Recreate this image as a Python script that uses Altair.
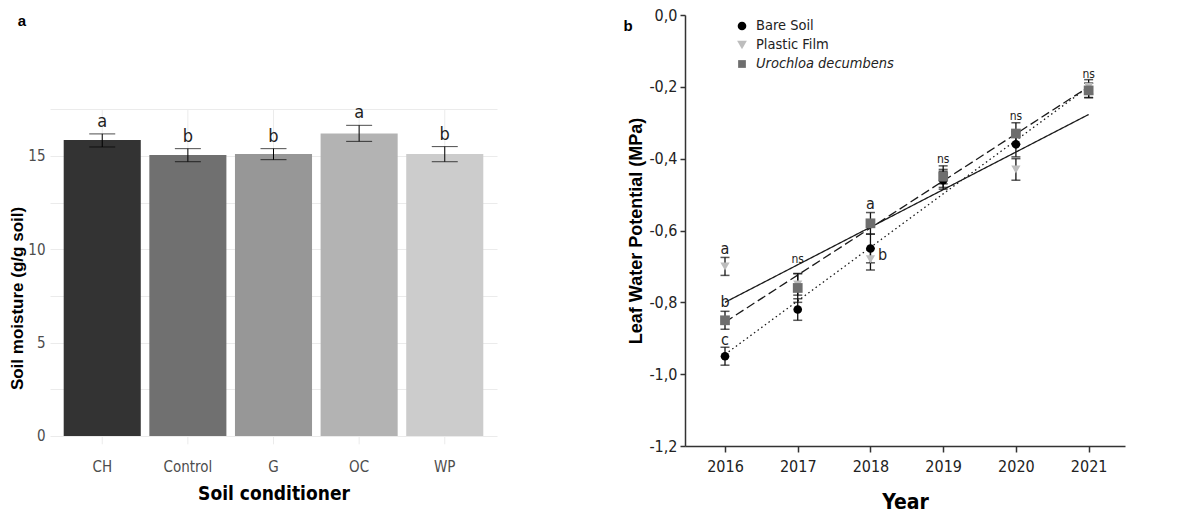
import altair as alt
import pandas as pd

NARROW = "Liberation Sans Narrow, Arial Narrow, DejaVu Sans Condensed, sans-serif"
SANS = "Liberation Sans, Arial, sans-serif"

# ---------------- panel a: soil moisture by conditioner ----------------
conditioners = ["CH", "Control", "G", "OC", "WP"]
moisture = [15.85, 15.05, 15.10, 16.20, 15.10]
moisture_lo = [15.48, 14.69, 14.80, 15.78, 14.69]
moisture_hi = [16.18, 15.39, 15.39, 16.64, 15.50]
moisture_groups = ["a", "b", "b", "a", "b"]
bar_greys = ["#333333", "#707070", "#979797", "#b3b3b3", "#cccccc"]
moisture_ticks = [0, 2.5, 5, 7.5, 10, 12.5, 15, 17.5]

# ---------------- panel b: leaf water potential by year ----------------
years = [2016, 2017, 2018, 2019, 2020, 2021]
series_names = ["Bare Soil", "Plastic Film", "Urochloa decumbens"]
bare_soil = [-0.95, -0.82, -0.65, -0.46, -0.36, -0.21]
bare_soil_err = [0.025, 0.03, 0.04, 0.025, 0.035, 0.02]
plastic_film = [-0.70, -0.75, -0.68, -0.45, -0.43, -0.20]
plastic_film_err = [0.025, 0.03, 0.03, 0.02, 0.03, 0.02]
urochloa = [-0.85, -0.76, -0.58, -0.45, -0.33, -0.21]
urochloa_err = [0.025, 0.04, 0.03, 0.03, 0.03, 0.02]
# fitted linear trends, value at first and last year
fit_years = [2016, 2021]
bare_soil_fit = [-0.945, -0.200]
plastic_film_fit = [-0.800, -0.277]
urochloa_fit = [-0.855, -0.200]
series_shapes = ["circle", "triangle-down", "square"]
series_sizes = [75, 95, 60]
series_colors = ["#000000", "#bdbdbd", "#6e6e6e"]
series_dash = [[1.5, 3], [1, 0], [9, 4]]
# significance letters: year, value, text, placed right of the marker or not
sig_years = [2016, 2016, 2016, 2017, 2018, 2018, 2019, 2020, 2021]
sig_values = [-0.652, -0.800, -0.905, -0.680, -0.525, -0.667, -0.400, -0.280, -0.163]
sig_labels = ["a", "b", "c", "ns", "a", "b", "ns", "ns", "ns"]
sig_right = [False, False, False, False, False, True, False, False, False]
lwp_ticks = [0.0, -0.2, -0.4, -0.6, -0.8, -1.0, -1.2]

# ======================= panel a =======================
bars = pd.DataFrame({
    "cond": conditioners, "moisture": moisture,
    "lo": moisture_lo, "hi": moisture_hi, "grp": moisture_groups,
    "top": [moisture_ticks[-1]] * len(conditioners),
    "bottom": [-0.45] * len(conditioners),
})

band = alt.Scale(paddingInner=0.1, paddingOuter=0.16)
x_a = alt.X("cond:N", sort=conditioners, scale=band,
            axis=alt.Axis(title="Soil conditioner", labelAngle=0,
                          labelAlign="center", labelBaseline="top", grid=False,
                          domain=False, ticks=False, labelPadding=13,
                          labelFont=NARROW, labelFontSize=15, labelColor="#4d4d4d",
                          titleFont=NARROW, titleFontSize=19, titleFontWeight="bold",
                          titleColor="#000000", titlePadding=10))
y_scale_a = alt.Scale(domain=[-0.54, 22.55], nice=False, zero=False)

base_a = alt.Chart(bars)

vgrid = base_a.mark_rule(color="#ebebeb", strokeWidth=1).encode(
    x=x_a,
    y=alt.Y("top:Q", scale=y_scale_a),
    y2="bottom:Q",
)

bar_layer = base_a.mark_bar().encode(
    x=x_a,
    y=alt.Y("moisture:Q", scale=y_scale_a,
            axis=alt.Axis(title="Soil moisture (g/g soil)", values=moisture_ticks,
                          labelExpr="datum.value % 5 == 0 ? datum.label : ''",
                          domain=False, ticks=False, gridColor="#ebebeb",
                          labelFont=NARROW, labelFontSize=15, labelColor="#4d4d4d",
                          labelPadding=5, titleFont=SANS, titleFontSize=17,
                          titleFontWeight="bold", titleColor="#000000",
                          titlePadding=1, titleY=283)),
    color=alt.Color("cond:N", sort=conditioners, legend=None,
                    scale=alt.Scale(domain=conditioners, range=bar_greys)),
)

err_a = base_a.mark_rule(color="#000000", strokeWidth=1).encode(
    x=alt.X("cond:N", sort=conditioners), y="lo:Q", y2="hi:Q")
cap_lo_a = base_a.mark_tick(color="#000000", thickness=1, size=26,
                            orient="horizontal").encode(
    x=alt.X("cond:N", sort=conditioners), y="lo:Q")
cap_hi_a = base_a.mark_tick(color="#000000", thickness=1, size=26,
                            orient="horizontal").encode(
    x=alt.X("cond:N", sort=conditioners), y="hi:Q")
letters_a = base_a.mark_text(font=NARROW, fontSize=18, baseline="bottom",
                             dy=-3, color="#222222").encode(
    x=alt.X("cond:N", sort=conditioners), y="hi:Q", text="grp:N")

tag_a = alt.Chart(pd.DataFrame({"t": ["a"]})).mark_text(
    font=SANS, fontSize=15, fontWeight="bold", baseline="middle", align="center"
).encode(x=alt.value(-28), y=alt.value(6), text="t:N")

panel_a = alt.layer(vgrid, bar_layer, err_a, cap_lo_a, cap_hi_a, letters_a,
                    tag_a).properties(width=447, height=431)

# ======================= panel b =======================
value_lists = [bare_soil, plastic_film, urochloa]
err_lists = [bare_soil_err, plastic_film_err, urochloa_err]
fit_lists = [bare_soil_fit, plastic_film_fit, urochloa_fit]
draw_order = [1, 0, 2]  # plastic film first, then bare soil, urochloa on top

rows = []
for name, vals, errs, rank in zip(series_names, value_lists, err_lists, draw_order):
    for yr, v, e in zip(years, vals, errs):
        rows.append({"series": name, "year": yr, "lwp": v,
                     "lo": v - e, "hi": v + e, "rank": rank})
pts = pd.DataFrame(rows)

fit_rows = []
for name, vals in zip(series_names, fit_lists):
    for yr, v in zip(fit_years, vals):
        fit_rows.append({"series": name, "year": yr, "lwp": v})
fits = pd.DataFrame(fit_rows)

sig = pd.DataFrame({"year": sig_years, "lwp": sig_values,
                    "label": sig_labels, "right": sig_right})

x_scale_b = alt.Scale(domain=[2015.45, 2021.5], nice=False, zero=False)
y_scale_b = alt.Scale(domain=[-1.2, 0.0], nice=False, zero=False)

x_b = alt.X("year:Q", scale=x_scale_b,
            axis=alt.Axis(title="Year", values=years, format="d", grid=False,
                          domainColor="#333333", domainWidth=1.5,
                          tickColor="#333333", tickWidth=1.5, tickSize=6,
                          labelFont=NARROW, labelFontSize=16, labelColor="#222222",
                          labelPadding=6, titleFont=NARROW, titleFontSize=21,
                          titleFontWeight="bold", titleColor="#000000",
                          titlePadding=17))
y_b = alt.Y("lwp:Q", scale=y_scale_b,
            axis=alt.Axis(title="Leaf Water Potential (MPa)", values=lwp_ticks,
                          labelExpr="(datum.value < 0 ? '-' : '') + "
                                    "replace(format(abs(datum.value), '.1f'), '.', ',')",
                          grid=False, domainColor="#333333", domainWidth=1.5,
                          tickColor="#333333", tickWidth=1.5, tickSize=5,
                          labelFont=NARROW, labelFontSize=16, labelColor="#222222",
                          labelPadding=3, titleFont=SANS, titleFontSize=18,
                          titleFontWeight="bold", titleColor="#000000",
                          titlePadding=3))

fit_layer = alt.Chart(fits).mark_line(color="#1a1a1a", strokeWidth=1.3).encode(
    x=x_b, y=y_b,
    strokeDash=alt.StrokeDash("series:N", legend=None,
                              scale=alt.Scale(domain=series_names, range=series_dash)),
    detail="series:N",
)

err_b = alt.Chart(pts).mark_rule(color="#111111", strokeWidth=1.3).encode(
    x="year:Q", y="lo:Q", y2="hi:Q")
cap_lo_b = alt.Chart(pts).mark_tick(color="#111111", thickness=1.5, size=9,
                                    orient="horizontal").encode(x="year:Q", y="lo:Q")
cap_hi_b = alt.Chart(pts).mark_tick(color="#111111", thickness=1.5, size=9,
                                    orient="horizontal").encode(x="year:Q", y="hi:Q")

point_layer = alt.Chart(pts).mark_point(filled=True, opacity=1).encode(
    x="year:Q", y="lwp:Q",
    shape=alt.Shape("series:N", legend=None,
                    scale=alt.Scale(domain=series_names, range=series_shapes)),
    color=alt.Color("series:N", legend=None,
                    scale=alt.Scale(domain=series_names, range=series_colors)),
    size=alt.Size("series:N", legend=None,
                  scale=alt.Scale(domain=series_names, range=series_sizes)),
    order="rank:Q",
)

sig_big = alt.Chart(sig).transform_filter(
    "datum.label != 'ns' && !datum.right"
).mark_text(font=NARROW, fontSize=16, baseline="middle", color="#222222").encode(
    x="year:Q", y="lwp:Q", text="label:N")
sig_side = alt.Chart(sig).transform_filter(
    "datum.label != 'ns' && datum.right"
).mark_text(font=NARROW, fontSize=16, baseline="middle", dx=12,
            color="#222222").encode(x="year:Q", y="lwp:Q", text="label:N")
sig_ns = alt.Chart(sig).transform_filter("datum.label == 'ns'").mark_text(
    font=NARROW, fontSize=12, baseline="middle", color="#222222"
).encode(x="year:Q", y="lwp:Q", text="label:N")

# hand-placed key in the upper-left corner
key_layers = []
for i, (name, shp, col, sz) in enumerate(
        zip(series_names, series_shapes, series_colors, series_sizes)):
    row = pd.DataFrame({"series": [name]})
    key_layers.append(alt.Chart(row).mark_point(
        filled=True, opacity=1, size=sz, shape=shp, color=col
    ).encode(x=alt.value(57), y=alt.value(11 + 19 * i)))
    key_layers.append(alt.Chart(row).mark_text(
        font=NARROW, fontSize=14.5, align="left", baseline="middle",
        fontStyle="italic" if i == 2 else "normal", color="#222222"
    ).encode(x=alt.value(71), y=alt.value(11 + 19 * i), text="series:N"))

tag_b = alt.Chart(pd.DataFrame({"t": ["b"]})).mark_text(
    font=SANS, fontSize=15, fontWeight="bold", baseline="middle", align="center"
).encode(x=alt.value(-57), y=alt.value(11), text="t:N")

panel_b = alt.layer(fit_layer, err_b, cap_lo_b, cap_hi_b, point_layer,
                    sig_big, sig_side, sig_ns, *key_layers, tag_b).properties(
    width=440, height=431)

chart = alt.hconcat(panel_a, panel_b, spacing=126).resolve_scale(
    x="independent", y="independent", color="independent",
    shape="independent", strokeDash="independent", size="independent",
).properties(
    padding={"left": 8, "top": 7, "right": 5, "bottom": 5},
    background="white",
).configure_view(stroke=None)

chart.save("out.html", embed_options={"renderer": "svg", "actions": False})
